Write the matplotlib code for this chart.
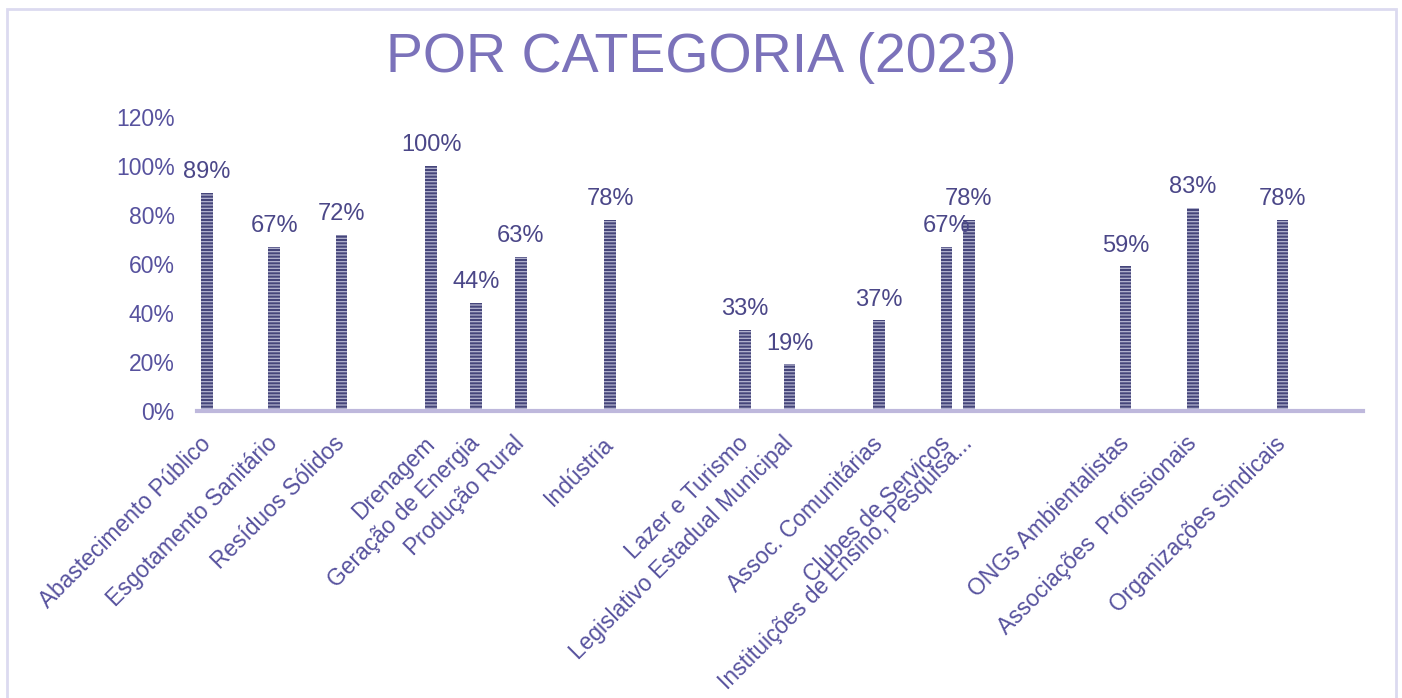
import matplotlib
matplotlib.use("Agg")
import matplotlib.pyplot as plt
from matplotlib.patches import Rectangle

plt.rcParams['font.family'] = ['Liberation Sans', 'DejaVu Sans']
plt.rcParams['hatch.linewidth'] = 0.9

title = 'POR CATEGORIA (2023)'
categories = ['Abastecimento Público', 'Esgotamento Sanitário', 'Resíduos Sólidos',
              'Drenagem', 'Geração de Energia', 'Produção Rural', 'Indústria',
              'Lazer e Turismo', 'Legislativo Estadual Municipal', 'Assoc. Comunitárias',
              'Clubes de Serviços', 'Instituições de Ensino, Pesquisa...',
              'ONGs Ambientalistas', 'Associações  Profissionais', 'Organizações Sindicais']
values = [0.89, 0.67, 0.72, 1.00, 0.44, 0.63, 0.78, 0.33, 0.19, 0.37,
          0.67, 0.78, 0.59, 0.83, 0.78]
# category slot on the x axis (the source chart leaves empty slots between groups)
slots = [0, 3, 6, 10, 12, 14, 18, 24, 26, 30, 33, 34, 41, 44, 48]
yticks = [0, 0.2, 0.4, 0.6, 0.8, 1.0, 1.2]

label_color = '#57529E'
value_color = '#4B4788'
title_color = '#7B72BA'

fig = plt.figure(figsize=(14.02, 6.98), dpi=100)
ax = fig.add_axes([197 / 1402, 1 - 411 / 698, (1363 - 197) / 1402, (411 - 117) / 698])

bars = ax.bar(slots, values, width=0.52, color='#45457A', edgecolor='#B4B4D0',
              linewidth=0, hatch='-----', zorder=2)

for x, v in zip(slots, values):
    ax.annotate(f'{v:.0%}', (x, v), xytext=(0, 7), textcoords='offset points',
                ha='center', va='bottom', fontsize=17, color=value_color)

ax.set_xlim(-0.45, 51.6)
ax.set_ylim(0, 1.2)
ax.set_yticks(yticks)
ax.set_yticklabels([f'{t:.0%}' for t in yticks])
ax.set_xticks(slots)
ax.set_xticklabels(categories, rotation=45, ha='right', va='center',
                   rotation_mode='anchor')
ax.tick_params(axis='x', length=0, pad=21, labelsize=16.4, labelcolor=label_color)
ax.tick_params(axis='y', length=0, pad=16, labelsize=16.5, labelcolor=label_color)

for s in ['left', 'right', 'top']:
    ax.spines[s].set_visible(False)
ax.spines['bottom'].set_color('#BEB8DC')
ax.spines['bottom'].set_linewidth(3)
ax.spines['bottom'].set_zorder(3)

fig.text(0.5, 1 - 58 / 698, title, ha='center', va='center', fontsize=40,
         color=title_color)

# light frame around the chart
fig.patches.append(Rectangle((7 / 1402, -0.05), (1396 - 7) / 1402, 1.05 - 9 / 698,
                             transform=fig.transFigure, fill=False,
                             edgecolor='#DCDAF0', linewidth=2))

fig.savefig('out.png', dpi=100)
